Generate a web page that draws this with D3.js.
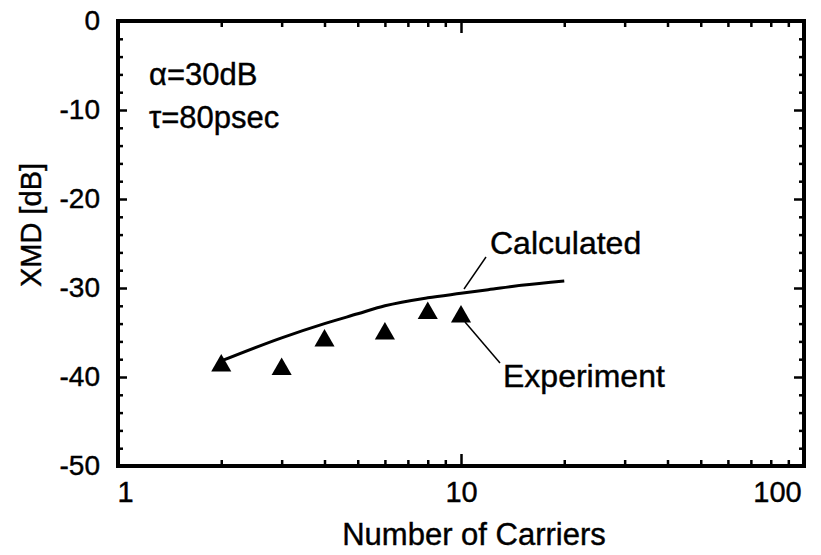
<!DOCTYPE html>
<html>
<head>
<meta charset="utf-8">
<script src="https://cdn.jsdelivr.net/npm/d3@7"></script>
<style>
  body { margin: 0; background: #fff; }
  svg { display: block; font-family: "Liberation Sans", Arial, Helvetica, sans-serif; }
</style>
</head>
<body>
<svg></svg>
<script>
// data
var expCarriers = [2, 3, 4, 6, 8, 10];
var expXmd = [-38.5, -38.9, -35.7, -34.9, -32.6, -33.0];

var calcCarriers = [2, 3, 4, 5, 6, 8, 10, 12, 15, 20];
var calcXmd = [-38.2, -35.6, -34.0, -32.9, -32.0, -31.1, -30.6, -30.2, -29.7, -29.2];

var xMajor = [1, 10, 100];
var xMinor = [2, 3, 4, 5, 6, 7, 8, 9, 20, 30, 40, 50, 60, 70, 80, 90];
var yMajor = [0, -10, -20, -30, -40, -50];
var yMinor = d3.range(-48, 0, 2).filter(function (v) { return v % 10 !== 0; });

var w = 821, h = 555;
var svg = d3.select("svg").attr("width", w).attr("height", h);

var mLeft = 118, mRight = 804, mTop = 21, mBottom = 466;

var x = d3.scaleLog().domain([1, 100]).range([mLeft, mRight]);
var y = d3.scaleLinear().domain([-50, 0]).range([mBottom, mTop]);

// plain hyphen like the original, not the unicode minus
var plain = function (d) { return String(d); };

// axes, ticks pointing inward
function tidy(g) {
  g.attr("font-size", 28).attr("font-family", null);
  g.select(".domain").remove();
  g.selectAll("line").attr("stroke", "#000").attr("stroke-width", 2.5);
  g.selectAll("text").attr("fill", "#000").attr("stroke", "#000").attr("stroke-width", 0.4);
}

svg.append("g").attr("transform", "translate(" + mLeft + ",0)")
  .call(d3.axisLeft(y).tickValues(yMajor).tickSize(-9).tickPadding(18).tickFormat(plain))
  .call(tidy);
svg.append("g").attr("transform", "translate(" + mLeft + ",0)")
  .call(d3.axisLeft(y).tickValues(yMinor).tickSize(-5).tickFormat(""))
  .call(tidy);
svg.append("g").attr("transform", "translate(" + mRight + ",0)")
  .call(d3.axisRight(y).tickValues(yMajor).tickSize(-10).tickFormat(""))
  .call(tidy);
svg.append("g").attr("transform", "translate(" + mRight + ",0)")
  .call(d3.axisRight(y).tickValues(yMinor).tickSize(-5).tickFormat(""))
  .call(tidy);

var xb = svg.append("g").attr("transform", "translate(0," + mBottom + ")")
  .call(d3.axisBottom(x).tickValues(xMajor).tickSize(-12).tickPadding(15).tickFormat(plain))
  .call(tidy);
xb.attr("font-size", 29);
xb.selectAll("text").attr("dx", function (d) { return d === 1 ? 7 : d === 100 ? -27 : 0; });
svg.append("g").attr("transform", "translate(0," + mBottom + ")")
  .call(d3.axisBottom(x).tickValues(xMinor).tickSize(-6).tickFormat(""))
  .call(tidy);
svg.append("g").attr("transform", "translate(0," + mTop + ")")
  .call(d3.axisTop(x).tickValues(xMajor).tickSize(-12).tickFormat(""))
  .call(tidy);
svg.append("g").attr("transform", "translate(0," + mTop + ")")
  .call(d3.axisTop(x).tickValues(xMinor).tickSize(-6).tickFormat(""))
  .call(tidy);

// frame
svg.append("rect")
  .attr("x", mLeft).attr("y", mTop)
  .attr("width", mRight - mLeft).attr("height", mBottom - mTop)
  .attr("fill", "none").attr("stroke", "#000").attr("stroke-width", 4);

// calculated curve
var line = d3.line()
  .x(function (d) { return x(d[0]); })
  .y(function (d) { return y(d[1]); })
  .curve(d3.curveMonotoneX);

svg.append("path")
  .datum(d3.zip(calcCarriers, calcXmd))
  .attr("d", line)
  .attr("fill", "none").attr("stroke", "#000").attr("stroke-width", 3);

// experiment points
svg.selectAll(".tri")
  .data(d3.zip(expCarriers, expXmd))
  .enter()
  .append("path")
  .attr("class", "tri")
  .attr("d", d3.symbol().type(d3.symbolTriangle).size(175))
  .attr("transform", function (d) { return "translate(" + x(d[0]) + "," + (y(d[1]) + 2) + ")"; })
  .attr("fill", "#000");

// leader lines and labels
svg.append("line")
  .attr("x1", 486).attr("y1", 257).attr("x2", 464).attr("y2", 289)
  .attr("stroke", "#000").attr("stroke-width", 1.5);
svg.append("line")
  .attr("x1", 465).attr("y1", 322).attr("x2", 500).attr("y2", 363)
  .attr("stroke", "#000").attr("stroke-width", 1.5);

var labels = svg.append("g").attr("fill", "#000").attr("stroke", "#000").attr("stroke-width", 0.4);

labels.append("text").attr("x", 490).attr("y", 254).attr("font-size", 32).text("Calculated");
labels.append("text").attr("x", 503).attr("y", 387).attr("font-size", 32).text("Experiment");

labels.append("text").attr("x", 149).attr("y", 85).attr("font-size", 31).text("α=30dB");
labels.append("text").attr("x", 149).attr("y", 128).attr("font-size", 31).text("τ=80psec");

// axis titles
labels.append("text")
  .attr("x", 474).attr("y", 545)
  .attr("text-anchor", "middle").attr("font-size", 31)
  .text("Number of Carriers");

labels.append("text")
  .attr("transform", "translate(41,225) rotate(-90)")
  .attr("text-anchor", "middle").attr("font-size", 29)
  .text("XMD [dB]");
</script>
</body>
</html>
